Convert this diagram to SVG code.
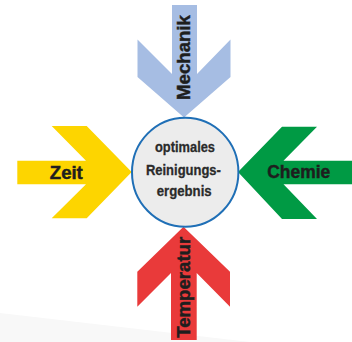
<svg xmlns="http://www.w3.org/2000/svg" width="352" height="342" viewBox="0 0 352 342">
  <style>
    .lbl { font-family: "Liberation Sans", Arial, sans-serif; font-weight: bold; font-size: 18px; fill: #1e1e1e; stroke: #1e1e1e; stroke-width: 0.45; }
    .ctr { font-family: "Liberation Sans", Arial, sans-serif; font-weight: bold; font-size: 15.5px; fill: #2a2a2a; stroke: #2a2a2a; stroke-width: 0.3; text-anchor: middle; }
  </style>
  <rect width="352" height="342" fill="#ffffff"/>
  <polygon points="0,313 250,342 0,342" fill="#f8f8f8"/>
  <g id="connectors">
    <g id="arrow-mechanik">
      <polygon points="172,5 197,5 197,74 230.5,39.5 230.5,77 184,117.5 137.5,77 137.5,39.5 172,74" fill="#a6bde3"/>
      <text class="lbl" transform="translate(190,57.5) rotate(-90)" text-anchor="middle" textLength="85" lengthAdjust="spacingAndGlyphs">Mechanik</text>
    </g>
    <g id="arrow-zeit">
      <polygon points="17.3,160.7 86,160.7 51.7,126 86.7,126 131.7,172 86.7,218.3 51.7,218.3 86,184.3 17.3,184.3" fill="#fdd500"/>
      <text class="lbl" x="66.3" y="179" text-anchor="middle" textLength="33" lengthAdjust="spacingAndGlyphs">Zeit</text>
    </g>
    <g id="arrow-chemie">
      <polygon points="352,160.7 283.5,160.7 317,126.7 282,126.7 238,172 282,219 317,219 283.5,184.3 352,184.3" fill="#009a44"/>
      <text class="lbl" x="298.7" y="178.3" text-anchor="middle" textLength="63" lengthAdjust="spacingAndGlyphs">Chemie</text>
    </g>
    <g id="arrow-temperatur">
      <polygon points="171,340 196.7,340 196.7,273 230,306.7 230,271.7 183.5,226.7 137.3,271.7 137.3,306.7 171,273" fill="#e93a3a"/>
      <text class="lbl" transform="translate(190,287.3) rotate(-90)" text-anchor="middle" textLength="101" lengthAdjust="spacingAndGlyphs">Temperatur</text>
    </g>
  </g>
  <g id="node-result">
    <ellipse cx="185.2" cy="172.2" rx="53.2" ry="54.5" fill="#ececec" stroke="#1f6fb6" stroke-width="2"/>
    <text class="ctr" x="185" y="151.5" textLength="60" lengthAdjust="spacingAndGlyphs">optimales</text>
    <text class="ctr" x="183.4" y="175" textLength="75" lengthAdjust="spacingAndGlyphs">Reinigungs-</text>
    <text class="ctr" x="184.2" y="196" textLength="55" lengthAdjust="spacingAndGlyphs">ergebnis</text>
  </g>
</svg>
